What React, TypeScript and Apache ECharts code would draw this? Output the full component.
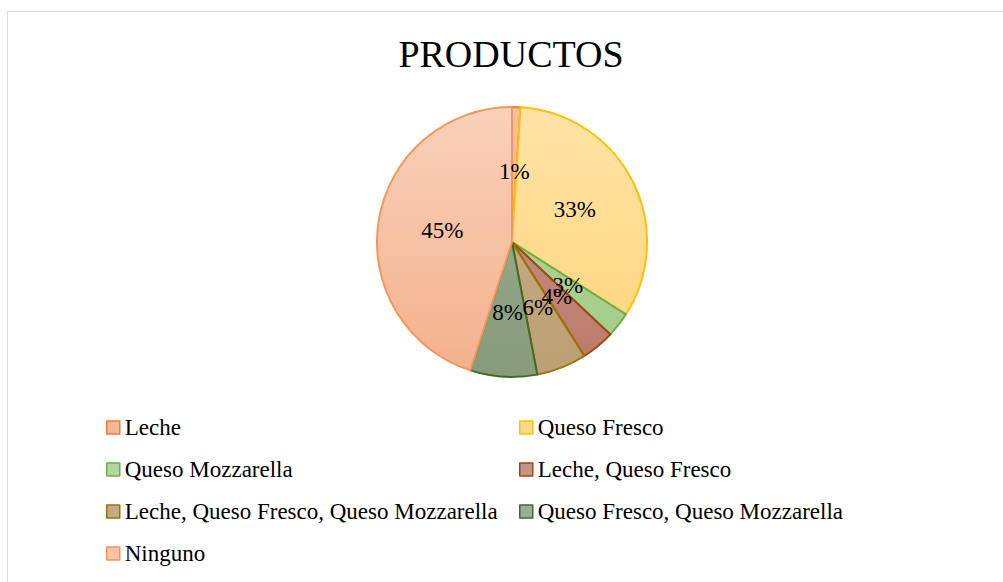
import React, { useEffect, useRef } from "react";
import * as echarts from "echarts";

const titleText = "PRODUCTOS";
const categories = [
  "Leche",
  "Queso Fresco",
  "Queso Mozzarella",
  "Leche, Queso Fresco",
  "Leche, Queso Fresco, Queso Mozzarella",
  "Queso Fresco, Queso Mozzarella",
  "Ninguno",
];
const values = [1, 33, 3, 4, 6, 8, 45];

const fillTop = ["#F7BEA4", "#FFE3A6", "#B2D69A", "#C9978C", "#CBB393", "#9EB196", "#F9D1BB"];
const fillBottom = ["#F4B094", "#FFD479", "#A3CC88", "#BB7A6A", "#BC9F72", "#879B7B", "#F4B08C"];
const borders = ["#ED7D31", "#FFC000", "#70AD47", "#9E480E", "#997300", "#43682B", "#F1975A"];
const legendFill = ["#F5B69A", "#FFDA8D", "#B5D6A0", "#C4938A", "#C4AA85", "#9DAD95", "#F8C3A6"];

const leftLegend = [0, 2, 4, 6];
const rightLegend = [1, 3, 5];

const FONT = "Liberation Serif";

export default function App() {
  const ref = useRef<HTMLDivElement>(null);
  useEffect(() => {
    if (!ref.current) return;
    const chart = echarts.init(ref.current, undefined, { renderer: "svg" });
    const cx = 512, cy = 242, r = 135;
    const legendBase = {
      orient: "vertical" as const,
      top: 416,
      padding: 0,
      itemWidth: 13,
      itemHeight: 13,
      itemGap: 19,
      icon: "rect",
      textStyle: { fontFamily: FONT, fontSize: 23, color: "#000", lineHeight: 23 },
      selectedMode: false,
    };
    const mkLegendData = (idx: number[]) =>
      idx.map((i) => ({
        name: categories[i],
        itemStyle: { color: legendFill[i], borderColor: borders[i], borderWidth: 1.5 },
        textStyle: { fontFamily: FONT, fontSize: 23, color: "#000" },
      }));
    chart.setOption({
      animation: false,
      backgroundColor: "#fff",
      textStyle: { fontFamily: FONT },
      legend: [
        { ...legendBase, left: 106, data: mkLegendData(leftLegend) },
        { ...legendBase, left: 519, data: mkLegendData(rightLegend) },
      ],
      graphic: [
        {
          type: "rect",
          shape: { x: 7.5, y: 11.5, width: 1100, height: 700 },
          style: { fill: "none", stroke: "#D9D9D9", lineWidth: 1 },
          silent: true,
        },
        {
          type: "text",
          x: 511,
          y: 54,
          silent: true,
          style: {
            text: titleText,
            fontFamily: FONT,
            fontSize: 38,
            fill: "#000",
            align: "center",
            verticalAlign: "middle",
          },
        },
      ],
      series: [
        {
          type: "pie",
          center: [cx, cy],
          radius: [0, r],
          startAngle: 90,
          clockwise: true,
          avoidLabelOverlap: false,
          labelLayout: { hideOverlap: false },
          label: {
            show: true,
            position: "inside",
            formatter: (p: any) => `${p.value}%`,
            fontFamily: FONT,
            fontSize: 23,
            color: "#000",
          },
          labelLine: { show: false },
          emphasis: { disabled: true },
          data: categories.map((name, i) => ({
            name,
            value: values[i],
            label: { fontFamily: FONT },
            itemStyle: {
              color: new echarts.graphic.LinearGradient(
                0, cy - r, 0, cy + r,
                [
                  { offset: 0, color: fillTop[i] },
                  { offset: 1, color: fillBottom[i] },
                ],
                true
              ),
              borderColor: borders[i],
              borderWidth: 2,
            },
          })),
        },
      ],
    });
    return () => chart.dispose();
  }, []);
  return (
    <div
      ref={ref}
      style={{ position: "absolute", left: 0, top: 0, width: 1003, height: 582 }}
    />
  );
}
